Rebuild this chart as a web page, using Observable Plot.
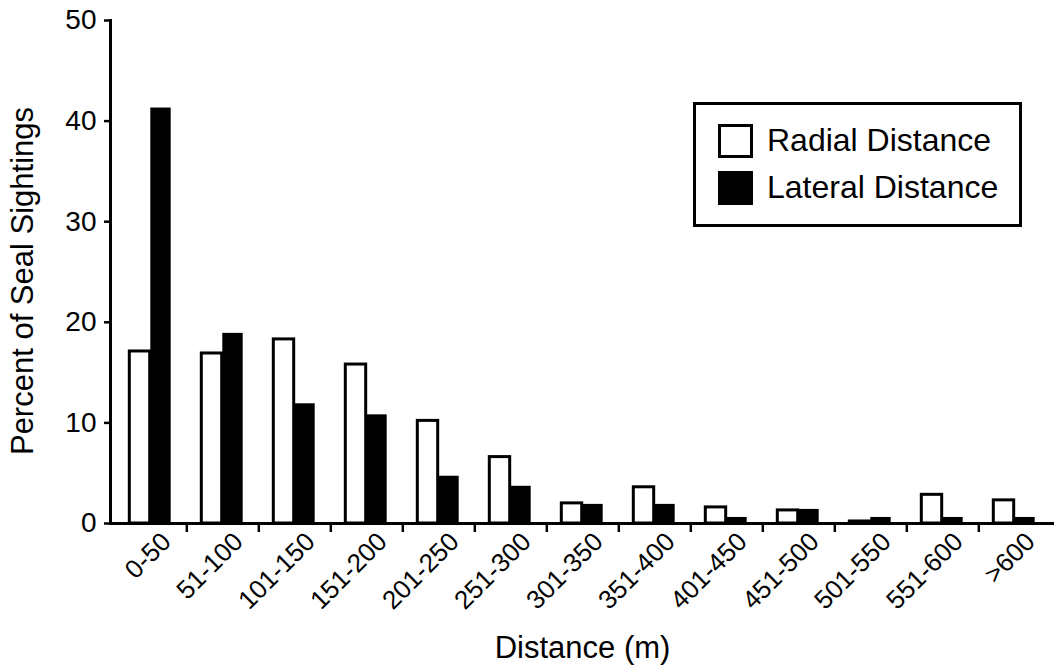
<!DOCTYPE html>
<html>
<head>
<meta charset="utf-8">
<script src="https://cdn.jsdelivr.net/npm/d3@7"></script>
<script src="https://cdn.jsdelivr.net/npm/@observablehq/plot@0.6"></script>
<style>
  html, body { margin: 0; padding: 0; background: white; }
  #wrap { position: relative; width: 1054px; height: 665px; font-family: "Liberation Sans", Arial, sans-serif; }
  #legend { position: absolute; left: 693px; top: 102px; width: 323px; height: 119px; border: 3px solid black; background: white; }
  .row { position: absolute; left: 22px; display: flex; align-items: center; font-size: 32px; color: black; white-space: nowrap; }
  .sw { width: 29px; height: 28px; margin-right: 14px; box-sizing: content-box; }
  .sw.radial { border: 3px solid black; background: white; }
  .sw.lateral { border: 3px solid black; background: black; }
</style>
</head>
<body>
<div id="wrap"></div>
<script>
const categories = ["0-50","51-100","101-150","151-200","201-250","251-300","301-350","351-400","401-450","451-500","501-550","551-600",">600"];
const radialValues = [17.1, 16.9, 18.3, 15.8, 10.2, 6.6, 2.0, 3.6, 1.6, 1.3, 0.2, 2.85, 2.3];
const lateralValues = [41.3, 18.9, 11.9, 10.8, 4.7, 3.7, 1.9, 1.9, 0.6, 1.4, 0.6, 0.6, 0.6];
const seriesNames = ["Radial Distance", "Lateral Distance"];
const yTicks = [0, 10, 20, 30, 40, 50];

const FONT = '"Liberation Sans", Arial, sans-serif';
const W = 1054, H = 665, ML = 110, MR = 0, MT = 20, MB = 142;
const bw = (W - ML - MR) / categories.length;
const barW = 21;

const rows = categories.map((c, i) => ({cat: c, radial: radialValues[i], lateral: lateralValues[i]}));

const chart = Plot.plot({
  width: W, height: H,
  marginLeft: ML, marginRight: MR, marginTop: MT, marginBottom: MB,
  style: {fontFamily: FONT, background: "white", color: "black"},
  x: {domain: categories, padding: 0},
  y: {domain: [0, 50]},
  marks: [
    Plot.barY(rows, {x: "cat", y: "radial", fill: "white", stroke: "black", strokeWidth: 3,
      insetLeft: bw / 2 - barW, insetRight: bw / 2}),
    Plot.barY(rows, {x: "cat", y: "lateral", fill: "black",
      insetLeft: bw / 2, insetRight: bw / 2 - barW}),
    Plot.ruleY([0], {stroke: "black", strokeWidth: 3}),
    Plot.frame({anchor: "left", stroke: "black", strokeWidth: 3}),
    Plot.axisY({ticks: yTicks, tickSize: 6, tickPadding: 8, fontSize: 28, strokeWidth: 2.5,
      label: "Percent of Seal Sightings", labelAnchor: "center", labelArrow: "none", labelOffset: 100}),
    Plot.axisX({ticks: categories.slice(0, -1), tickSize: 9, tickFormat: () => "", dx: bw / 2,
      strokeWidth: 2.5, label: null}),
    Plot.axisX({tickSize: 0, tickRotate: -45, fontSize: 26, dx: 16, dy: 6, tickPadding: 8,
      label: "Distance (m)", labelAnchor: "center", labelArrow: "none", labelOffset: 134})
  ]
});
const wrap = document.getElementById("wrap");
wrap.appendChild(chart);
// axis titles slightly larger than tick labels
chart.querySelectorAll("g[aria-label='y-axis label'], g[aria-label='x-axis label']").forEach(g => g.setAttribute("font-size", "31"));
const yLab = chart.querySelector("g[aria-label='y-axis label']");
if (yLab) yLab.setAttribute("transform", ((yLab.getAttribute("transform") || "") + " translate(0,9)").trim());

const legend = document.createElement("div");
legend.id = "legend";
const classes = ["radial", "lateral"];
seriesNames.forEach((name, i) => {
  const row = document.createElement("div");
  row.className = "row";
  row.style.top = (i === 0 ? 17 : 64) + "px";
  const sw = document.createElement("div");
  sw.className = "sw " + classes[i];
  const t = document.createElement("span");
  t.textContent = name;
  row.appendChild(sw);
  row.appendChild(t);
  legend.appendChild(row);
});
wrap.appendChild(legend);
</script>
</body>
</html>
